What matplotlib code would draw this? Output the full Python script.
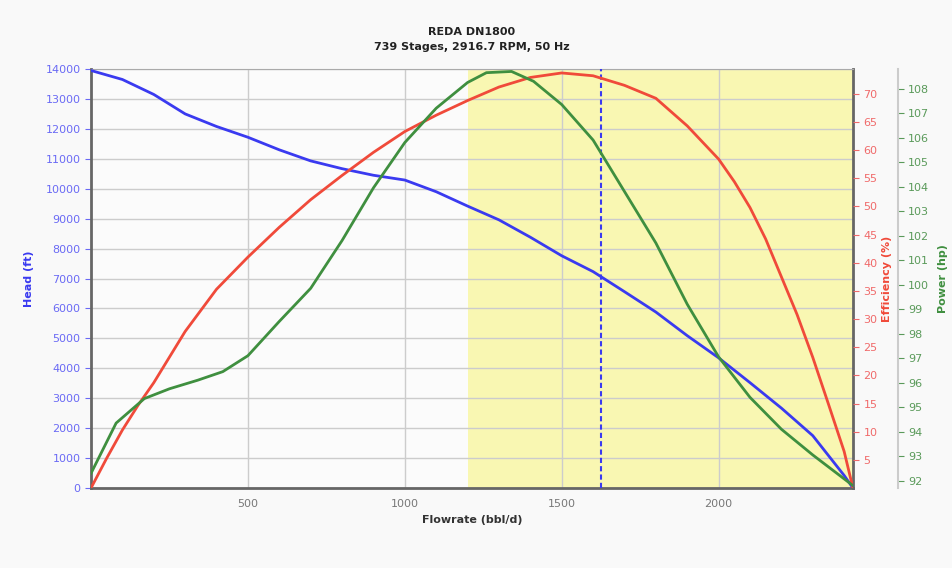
import numpy as np
import matplotlib.pyplot as plt

plt.switch_backend('agg')

# pump curve readings
flow = [0, 100, 200, 300, 400, 500, 600, 700, 800, 900, 1000, 1100, 1200, 1300,
        1400, 1500, 1600, 1700, 1800, 1900, 2000, 2100, 2200, 2300, 2400, 2428]
head = [13950, 13650, 13150, 12500, 12080, 11720, 11300, 10930, 10670, 10450, 10290,
        9900, 9420, 8960, 8380, 7760, 7230, 6560, 5880, 5090, 4350, 3520, 2670, 1750,
        420, 0]
eff_flow = [0, 50, 100, 150, 200, 300, 400, 500, 600, 700, 800, 900, 1000, 1100, 1200,
            1300, 1400, 1500, 1600, 1700, 1800, 1900, 2000, 2050, 2100, 2150, 2200,
            2250, 2300, 2350, 2400, 2428]
eff = [0, 5.3, 10.3, 14.7, 18.7, 27.8, 35.3, 41.0, 46.3, 51.2, 55.5, 59.6, 63.3, 66.2,
       68.8, 71.2, 72.9, 73.7, 73.2, 71.5, 69.2, 64.3, 58.4, 54.4, 49.8, 44.2, 37.5,
       30.8, 23.2, 14.9, 6.5, 0]
power_flow = [0, 80, 170, 250, 340, 420, 500, 600, 700, 800, 900, 1000, 1100, 1200, 1260,
              1340, 1410, 1500, 1600, 1700, 1800, 1900, 2000, 2100, 2200, 2300, 2428]
power = [92.3, 94.35, 95.35, 95.75, 96.1, 96.45, 97.1, 98.5, 99.85, 101.8, 103.95, 105.8,
         107.2, 108.25, 108.65, 108.7, 108.3, 107.35, 105.9, 103.8, 101.7, 99.2, 97.05,
         95.4, 94.1, 93.05, 91.8]

rec_range = [1200, 2428]
bep_flow = 1625

title = "REDA DN1800\n739 Stages, 2916.7 RPM, 50 Hz"

c_head = '#3a3af0'
c_eff = '#f04a3a'
c_pow = '#3f8f3f'

fig = plt.figure(figsize=(9.53, 5.68), dpi=100)
fig.patch.set_facecolor('#f9f9f9')
ax = fig.add_axes([0.0955, 0.1408, 0.7995, 0.7377])
ax.set_facecolor('#fbfbfb')

ax.axvspan(rec_range[0], rec_range[1], color='#f9f7b2', zorder=0, lw=0)
ax.grid(True, color='#cccccc', lw=1.0, zorder=1)
ax.set_axisbelow(True)

ax.plot(flow, head, color=c_head, lw=2, zorder=3)
ax.axvline(bep_flow, color=c_head, lw=1.5, ls=(0, (2.5, 1.5)), zorder=3)

ax.set_xlim(0, 2428)
ax.set_ylim(0, 14000)
ax.set_xticks([500, 1000, 1500, 2000])
ax.set_yticks(np.arange(0, 14001, 1000))
ax.tick_params(axis='y', colors='#6a6af5', labelsize=8, length=4)
ax.tick_params(axis='x', colors='#777777', labelsize=8, length=0, pad=8)
ax.set_xlabel('Flowrate (bbl/d)', fontsize=8, fontweight='bold', color='#333333', labelpad=4)
ax.set_ylabel('Head (ft)', fontsize=8, fontweight='bold', color=c_head, labelpad=8)
ax.set_title(title, fontsize=8, fontweight='bold', color='#222222', pad=14,
             linespacing=1.6)
for s in ['left', 'bottom']:
    ax.spines[s].set_color('#666666')
    ax.spines[s].set_linewidth(2)
ax.spines['top'].set_color('#aaaaaa')
ax.spines['right'].set_color('#666666')
ax.spines['right'].set_linewidth(2)

ax2 = ax.twinx()
ax2.plot(eff_flow, eff, color=c_eff, lw=2, zorder=3)
ax2.set_ylim(0, 74.4)
ax2.set_yticks(np.arange(5, 71, 5))
ax2.tick_params(axis='y', colors='#f06a6a', labelsize=8, length=4)
ax2.set_ylabel('Efficiency (%)', fontsize=8, fontweight='bold', color=c_eff, labelpad=3)
for s in ax2.spines.values():
    s.set_visible(False)

ax3 = ax.twinx()
ax3.plot(power_flow, power, color=c_pow, lw=2, zorder=3)
ax3.set_ylim(91.7, 108.8)
ax3.set_yticks(np.arange(92, 109, 1))
ax3.spines['right'].set_position(('axes', 1.059))
ax3.spines['right'].set_color('#cccccc')
ax3.spines['right'].set_linewidth(1.5)
for s in ['left', 'top', 'bottom']:
    ax3.spines[s].set_visible(False)
ax3.tick_params(axis='y', colors='#5a9a5a', labelsize=8, length=4)
ax3.set_ylabel('Power (hp)', fontsize=8, fontweight='bold', color=c_pow, labelpad=6)

plt.savefig('out.png', dpi=100, facecolor=fig.get_facecolor())
